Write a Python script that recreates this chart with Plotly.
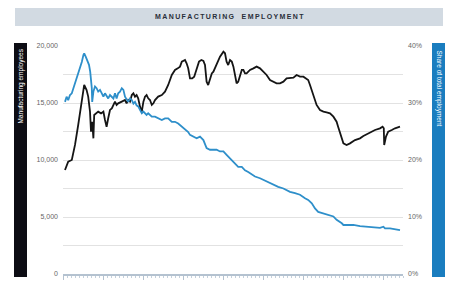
import plotly.graph_objects as go

# Manufacturing employees (thousands)
emp_years = [1939.5, 1940.3, 1941.2, 1942.0, 1942.8, 1943.7, 1944.3, 1944.9, 1945.3, 1945.75,
             1946.0, 1946.3, 1946.6, 1946.8, 1947.2, 1947.8, 1948.5, 1949.1, 1949.5, 1949.9,
             1950.3, 1950.75, 1951.2, 1951.6, 1952.0, 1952.4, 1952.8, 1953.7, 1954.5, 1954.9,
             1955.3, 1955.75, 1956.2, 1956.6, 1957.0, 1957.4, 1957.8, 1958.25, 1958.7, 1959.1,
             1959.5, 1959.9, 1960.3, 1960.75, 1961.2, 1961.6, 1962.0, 1962.8, 1963.7, 1964.5,
             1965.3, 1966.2, 1967.0, 1967.7, 1968.25, 1968.7, 1969.5, 1969.9, 1970.3, 1970.75,
             1971.3, 1971.8, 1972.4, 1973.0, 1973.6, 1974.1, 1974.5, 1974.9, 1975.3, 1975.75,
             1976.2, 1976.6, 1977.0, 1977.4, 1978.25, 1979.1, 1979.5, 1979.9, 1980.3, 1980.75,
             1981.2, 1981.6, 1982.0, 1982.4, 1982.8, 1983.25, 1983.7, 1984.1, 1984.5, 1984.9,
             1985.3, 1985.75, 1986.6, 1987.4, 1988.25, 1988.7, 1989.1, 1989.9, 1990.75, 1991.6,
             1992.4, 1993.25, 1994.1, 1994.9, 1995.75, 1996.6, 1997.4, 1998.25, 1999.1, 1999.9,
             2000.3, 2000.75, 2001.6, 2002.4, 2003.25, 2004.1, 2004.9, 2005.75, 2006.6, 2007.4,
             2007.8, 2008.5, 2009.1, 2009.9, 2010.75, 2012.0, 2013.25, 2014.1, 2015.3, 2016.2,
             2017.0, 2018.25, 2018.9, 2019.2, 2019.3, 2019.75, 2020.3, 2021.2, 2022.0, 2023.25]
employees = [9120, 9850, 10000, 11320, 13070, 15120, 16580, 16140, 15560, 14240,
             12490, 13360, 11900, 13950, 14090, 14240, 14090, 14240, 13510, 12920,
             13660, 14390, 14530, 14830, 15120, 14830, 14970, 15120, 15260, 14970,
             15260, 15120, 15700, 15850, 15560, 15700, 15410, 14680, 14240, 15120,
             15560, 15700, 15410, 15260, 14830, 14970, 15260, 15560, 15700, 15990,
             16580, 17460, 17900, 18040, 18190, 18630, 18770, 18480, 18040, 17160,
             17160, 17310, 17900, 18630, 18770, 18700, 18330, 16870, 16580, 17160,
             17600, 17750, 18040, 18330, 19060, 19500, 19360, 18630, 18330, 18770,
             18630, 18190, 17310, 16730, 16870, 17460, 17900, 17900, 17600, 17600,
             17750, 17900, 18040, 18190, 18040, 17900, 17750, 17460, 17020, 16870,
             16730, 16730, 16870, 17160, 17160, 17220, 17460, 17310, 17310, 17160,
             17020, 16580, 15560, 14830, 14390, 14240, 14180, 14100, 13800, 13360,
             12900, 12050, 11460, 11320, 11460, 11750, 11900, 12100, 12340, 12490,
             12630, 12780, 12920, 12780, 11320, 12050, 12490, 12630, 12780, 12920]

# Share of total employment (%)
share_years = [1939.5, 1939.9, 1940.3, 1940.75, 1941.2, 1941.6, 1942.0, 1942.4, 1942.8, 1943.25,
               1943.7, 1944.1, 1944.3, 1944.7, 1945.1, 1945.5, 1945.8, 1946.2, 1946.3, 1946.6,
               1947.0, 1947.4, 1947.8, 1948.25, 1948.7, 1949.1, 1949.5, 1949.9, 1950.3, 1950.75,
               1951.2, 1951.6, 1952.0, 1952.4, 1952.8, 1953.25, 1953.7, 1954.1, 1954.5, 1954.9,
               1955.3, 1955.75, 1956.2, 1956.6, 1957.0, 1957.4, 1957.8, 1958.25, 1958.7, 1959.1,
               1959.5, 1959.9, 1960.3, 1961.2, 1962.0, 1962.8, 1963.7, 1964.5, 1965.3, 1966.2,
               1967.0, 1967.8, 1968.7, 1969.5, 1970.3, 1970.75, 1971.6, 1972.4, 1973.25, 1974.1,
               1974.9, 1975.75, 1976.6, 1977.4, 1978.25, 1979.1, 1979.9, 1980.75, 1981.2, 1982.0,
               1982.8, 1983.7, 1984.5, 1985.3, 1986.2, 1987.0, 1988.25, 1989.1, 1990.3, 1991.6,
               1992.8, 1994.1, 1995.75, 1997.0, 1998.25, 1999.5, 2000.3, 2001.2, 2002.0, 2002.8,
               2004.1, 2005.3, 2006.6, 2007.4, 2008.25, 2008.7, 2009.1, 2011.6, 2013.25, 2014.9,
               2016.6, 2018.25, 2019.1, 2019.5, 2020.75, 2022.4, 2023.25]
share = [30.2, 31.1, 30.5, 31.4, 31.7, 32.6, 33.2, 34.0, 34.9, 36.1,
         37.2, 38.4, 38.7, 38.1, 37.5, 36.7, 35.5, 32.6, 30.2, 32.0,
         32.9, 32.6, 32.0, 32.3, 31.7, 31.1, 31.7, 31.1, 30.8, 31.4,
         31.1, 30.8, 31.7, 30.8, 31.7, 32.0, 32.6, 32.3, 31.1, 30.5,
         30.2, 30.8, 30.5, 29.9, 30.2, 29.6, 29.4, 28.8, 28.2, 28.5,
         28.2, 27.9, 28.2, 27.6, 27.6, 27.3, 27.0, 27.3, 27.3, 26.7,
         26.7, 26.4, 25.8, 25.4, 24.9, 24.4, 24.1, 23.8, 24.1, 23.5,
         22.1, 21.8, 21.8, 21.8, 21.5, 21.5, 20.9, 20.3, 20.0, 19.4,
         18.8, 18.8, 18.2, 17.9, 17.4, 17.1, 16.8, 16.5, 16.2, 15.6,
         15.3, 15.0, 14.4, 14.2, 13.9, 13.3, 13.0, 12.4, 11.5, 10.9,
         10.6, 10.4, 10.1, 9.5, 9.2, 8.9, 8.6, 8.6, 8.4, 8.3,
         8.2, 8.1, 8.3, 8.0, 8.0, 7.8, 7.7]

left_ticks = [0, 2500, 5000, 7500, 10000, 12500, 15000, 17500, 20000]
left_labels = ["0", "", "5,000", "", "10,000", "", "15,000", "", "20,000"]
right_ticks = [0, 10, 20, 30, 40]
right_labels = ["0%", "10%", "20%", "30%", "40%"]
x_ticks = [1939, 1949, 1959, 1969, 1979, 1989, 1999, 2009, 2019]

title_text = "MANUFACTURING EMPLOYMENT"
left_title = "Manufacturing employees"
right_title = "Share of total employment"

BLUE_LINE = "#2e8fca"
BLUE_BAR = "#1a7dbf"

fig = go.Figure()
fig.add_trace(go.Scatter(x=share_years, y=share, mode="lines", yaxis="y2",
                         line=dict(color=BLUE_LINE, width=1.8), hoverinfo="skip", showlegend=False))
fig.add_trace(go.Scatter(x=emp_years, y=employees, mode="lines",
                         line=dict(color="#151515", width=1.8), hoverinfo="skip", showlegend=False))

W, H = 449, 286
L, R, T, B = 63, 403, 46, 274
def px(x):
    return (x - L) / (R - L)
def py(y):
    return (B - y) / (B - T)

spaced = "\u2009".join(list(title_text)).replace("\u2009 \u2009", "\u2009\u2009 \u2009\u2009")

fig.update_layout(
    width=W, height=H,
    margin=dict(l=L, r=W - R, t=T, b=H - B, pad=0, autoexpand=False),
    paper_bgcolor="white", plot_bgcolor="white",
    font=dict(family="Liberation Sans, Arial, sans-serif", color="#666666", size=7),
    xaxis=dict(range=[1939, 2024], showgrid=False, zeroline=False, automargin=False,
               showline=True, linecolor="#b4c2d0", linewidth=1.5,
               tickmode="array", tickvals=x_ticks, ticktext=[str(v) for v in x_ticks],
               ticks="outside", ticklen=4, tickcolor="#b4c2d0", tickwidth=1,
               ticklabelstandoff=3,
               minor=dict(dtick=1, ticks="outside", ticklen=2, tickcolor="#c4d0dc", tickwidth=1),
               tickfont=dict(size=7, color="#777777")),
    yaxis=dict(range=[0, 20000], tickmode="array", tickvals=left_ticks, ticktext=left_labels,
               showgrid=True, gridcolor="#e2e2e2", gridwidth=1, zeroline=False, automargin=False,
               ticks="", ticklabelstandoff=4, tickfont=dict(size=7, color="#666666")),
    yaxis2=dict(range=[0, 40], overlaying="y", side="right", tickmode="array", automargin=False,
                tickvals=right_ticks, ticktext=right_labels, showgrid=False, zeroline=False,
                ticks="", ticklabelstandoff=4, tickfont=dict(size=7, color="#666666")),
    shapes=[
        dict(type="rect", xref="paper", yref="paper", x0=px(15), x1=px(443), y0=py(26), y1=py(8),
             fillcolor="#d2dae2", line=dict(width=0), layer="below"),
        dict(type="rect", xref="paper", yref="paper", x0=px(14), x1=px(27), y0=py(277), y1=py(43),
             fillcolor="#0d0d14", line=dict(width=0)),
        dict(type="rect", xref="paper", yref="paper", x0=px(432), x1=px(445), y0=py(277), y1=py(43),
             fillcolor=BLUE_BAR, line=dict(width=0)),
    ],
    annotations=[
        dict(text="<b>" + spaced + "</b>", xref="paper", yref="paper", x=px(229), y=py(17),
             showarrow=False, xanchor="center", yanchor="middle",
             font=dict(size=7, color="#2a2f3a")),
        dict(text=left_title, xref="paper", yref="paper", x=px(20.5), y=py(86),
             showarrow=False, xanchor="center", yanchor="middle", textangle=-90,
             font=dict(size=6.5, color="white")),
        dict(text=right_title, xref="paper", yref="paper", x=px(438.5), y=py(88),
             showarrow=False, xanchor="center", yanchor="middle", textangle=90,
             font=dict(size=6.5, color="white")),
    ],
)

fig.write_html("out.html", config={"displayModeBar": False},
               post_script="document.body.style.margin='0';document.body.style.overflow='hidden';")
